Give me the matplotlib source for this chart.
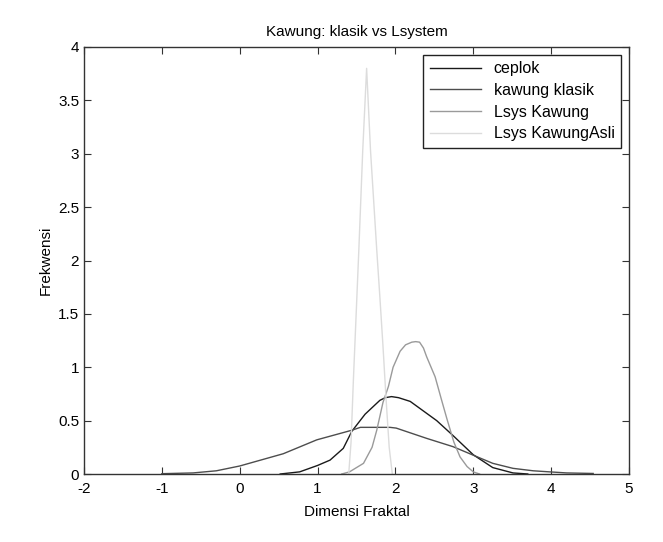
import numpy as np
import matplotlib
matplotlib.use('Agg')
import matplotlib.pyplot as plt
from matplotlib.ticker import FormatStrFormatter

plt.rcParams['font.family'] = ['Liberation Sans', 'DejaVu Sans']
plt.rcParams['axes.unicode_minus'] = False

# titik-titik kurva
ceplok_x = [0.52, 0.77, 1.0, 1.16, 1.33, 1.44, 1.61, 1.80, 1.87, 1.95, 2.04, 2.19, 2.53, 2.74, 3.0, 3.25, 3.51, 3.70]
ceplok_y = [0.0, 0.02, 0.08, 0.13, 0.24, 0.40, 0.56, 0.69, 0.715, 0.725, 0.715, 0.68, 0.50, 0.36, 0.18, 0.06, 0.01, 0.0]

klasik_x = [-1.0, -0.6, -0.3, 0.0, 0.56, 0.99, 1.44, 1.55, 1.93, 2.01, 2.40, 2.74, 3.02, 3.25, 3.51, 3.77, 3.98, 4.2, 4.54]
klasik_y = [0.003, 0.01, 0.03, 0.075, 0.19, 0.32, 0.41, 0.437, 0.437, 0.43, 0.334, 0.256, 0.17, 0.10, 0.053, 0.03, 0.02, 0.01, 0.005]

lsys_x = [1.31, 1.41, 1.59, 1.70, 1.76, 1.84, 1.91, 1.97, 2.06, 2.13, 2.21, 2.26, 2.31, 2.36, 2.40, 2.51, 2.59, 2.66, 2.75, 2.83, 2.92, 3.0, 3.08]
lsys_y = [0.0, 0.02, 0.10, 0.25, 0.41, 0.67, 0.82, 1.0, 1.15, 1.21, 1.235, 1.24, 1.235, 1.18, 1.10, 0.91, 0.70, 0.52, 0.30, 0.16, 0.07, 0.02, 0.0]

asli_x = [1.40, 1.43, 1.46, 1.49, 1.53, 1.58, 1.63, 1.68, 1.76, 1.80, 1.84, 1.88, 1.92, 1.96]
asli_y = [0.0, 0.3, 0.88, 1.4, 2.1, 3.03, 3.80, 3.03, 2.10, 1.66, 1.2, 0.7, 0.25, 0.0]

labels = ['ceplok', 'kawung klasik', 'Lsys Kawung', 'Lsys KawungAsli']

fs = 11
fig = plt.figure(figsize=(6.63, 5.42), dpi=100)
ax = fig.add_axes([84/663, 68/542, 545/663, 427/542])

ax.plot(ceplok_x, ceplok_y, color='#1a1a1a', lw=1.0, label=labels[0])
ax.plot(klasik_x, klasik_y, color='#4d4d4d', lw=1.0, label=labels[1])
ax.plot(lsys_x, lsys_y, color='#9a9a9a', lw=1.0, label=labels[2])
ax.plot(asli_x, asli_y, color='#dcdcdc', lw=1.0, label=labels[3])

ax.set_xlim(-2, 5)
ax.set_ylim(0, 4)
ax.set_xticks(range(-2, 6))
ax.set_yticks(np.arange(0, 4.01, 0.5))
ax.yaxis.set_major_formatter(FormatStrFormatter('%g'))
ax.tick_params(direction='in', top=True, right=True, length=5, labelsize=fs, color='#333333')
ax.tick_params(axis='x', pad=6)
for s in ax.spines.values():
    s.set_color('#333333')
    s.set_linewidth(1.0)

ax.set_title('Kawung: klasik vs Lsystem', fontsize=fs, pad=8)
ax.set_xlabel('Dimensi Fraktal', fontsize=fs, labelpad=6)
ax.set_ylabel('Frekwensi', fontsize=fs, labelpad=4)

leg = ax.legend(loc='upper right', fontsize=11.5, fancybox=False, edgecolor='#222222',
                framealpha=1, handlelength=3.2, borderaxespad=0.5, labelspacing=0.42)
leg.get_frame().set_linewidth(1.0)

fig.savefig('out.png', dpi=100)
